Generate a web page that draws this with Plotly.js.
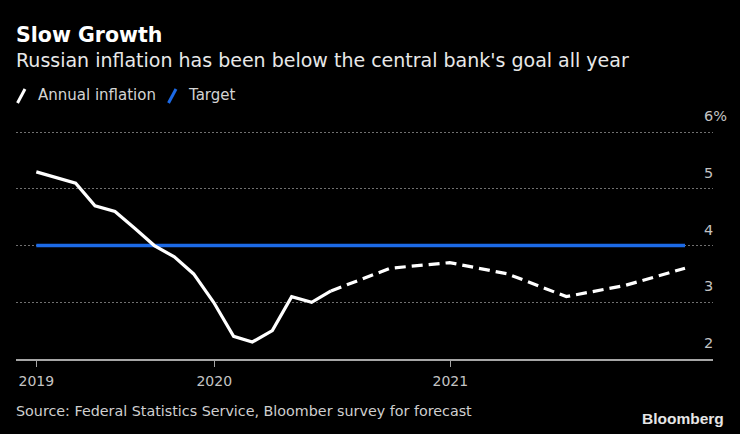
<!DOCTYPE html>
<html>
<head>
<meta charset="utf-8">
<script src="https://cdn.plot.ly/plotly-3.0.1.min.js"></script>
<style>
  html, body { margin: 0; padding: 0; background: #000; }
  #chart { width: 740px; height: 434px; }
</style>
</head>
<body>
<div id="chart"></div>
<script>
// ---- Data ----
const actualDates = ['2019-03-31','2019-04-30','2019-05-31','2019-06-30','2019-07-31','2019-08-31',
  '2019-09-30','2019-10-31','2019-11-30','2019-12-31','2020-01-31','2020-02-29','2020-03-31',
  '2020-04-30','2020-05-31','2020-06-30'];
const actualValues = [5.3, 5.2, 5.1, 4.7, 4.6, 4.3, 4.0, 3.8, 3.5, 3.0, 2.4, 2.3, 2.5, 3.1, 3.0, 3.2];

const forecastDates = ['2020-06-30','2020-09-30','2020-12-31','2021-03-31','2021-06-30','2021-09-30','2021-12-31'];
const forecastValues = [3.2, 3.6, 3.7, 3.5, 3.1, 3.3, 3.6];

const targetDates = ['2019-03-31','2021-12-31'];
const targetValues = [4, 4];

const xTickVals = ['2019-03-31','2020-01-01','2021-01-01'];
const xTickText = ['2019','2020','2021'];
const yTickVals = [2, 3, 4, 5, 6];
const yTickText = ['2','3','4','5','6%'];

const titleText = 'Slow Growth';
const subtitleText = "Russian inflation has been below the central bank's goal all year";
const sourceText = 'Source: Federal Statistics Service, Bloomber survey for forecast';
const legendNames = ['Annual inflation', 'Target'];

// ---- Layout geometry ----
const W = 740, H = 434;
const M = { l: 16, r: 27, t: 131, b: 75 };
const PW = W - M.l - M.r, PH = H - M.t - M.b;
const px = x => (x - M.l) / PW;          // pixel -> paper x
const py = y => (H - M.b - y) / PH;      // pixel -> paper y

const WHITE = '#ffffff';
const BLUE = '#1c6ae6';
const FONT = 'DejaVu Sans, Verdana, sans-serif';

const traces = [
  { x: targetDates, y: targetValues, type: 'scatter', mode: 'lines', name: legendNames[1],
    line: { color: BLUE, width: 3.5 }, hoverinfo: 'skip', showlegend: false },
  { x: actualDates, y: actualValues, type: 'scatter', mode: 'lines', name: legendNames[0],
    line: { color: WHITE, width: 3.2 }, hoverinfo: 'skip', showlegend: false },
  { x: forecastDates, y: forecastValues, type: 'scatter', mode: 'lines', name: legendNames[0] + ' (forecast)',
    line: { color: WHITE, width: 3.2, dash: '11px,6px' }, hoverinfo: 'skip', showlegend: false }
];

const layout = {
  width: W, height: H,
  paper_bgcolor: '#000', plot_bgcolor: '#000',
  margin: M,
  showlegend: false,
  font: { family: FONT, color: '#cfcfcf' },
  title: {
    text: '<b>' + titleText + '</b>',
    font: { family: FONT, size: 20.5, color: '#ffffff' },
    xref: 'container', yref: 'container',
    x: 16 / W, xanchor: 'left',
    y: 1 - 35 / H, yanchor: 'middle'
  },
  xaxis: {
    type: 'date',
    range: ['2019-02-27 12:00', '2022-02-12 10:00'],
    showgrid: false, zeroline: false,
    showline: true, linecolor: '#a6a6a6', linewidth: 1.5,
    ticks: 'outside', ticklen: 6, tickwidth: 1.5, tickcolor: '#a6a6a6',
    tickmode: 'array', tickvals: xTickVals, ticktext: xTickText,
    tickfont: { family: FONT, size: 14, color: '#c4c4c4' },
    ticklabelstandoff: 3,
    fixedrange: true
  },
  yaxis: {
    range: [2, 6.02], side: 'right',
    showgrid: true, gridcolor: '#707070', gridwidth: 1, griddash: '2px,2px',
    zeroline: false, showline: false, ticks: '',
    tickmode: 'array', tickvals: yTickVals, ticktext: yTickText,
    tickfont: { family: FONT, size: 14.5, color: '#c4c4c4' },
    ticklabelstandoff: -10, ticklabelshift: -16,
    fixedrange: true
  },
  shapes: [
    { type: 'line', xref: 'paper', yref: 'paper', x0: px(17.5), y0: py(103), x1: px(25), y1: py(89),
      line: { color: WHITE, width: 3 } },
    { type: 'line', xref: 'paper', yref: 'paper', x0: px(168.5), y0: py(103), x1: px(176), y1: py(89),
      line: { color: BLUE, width: 3 } }
  ],
  annotations: [
    { xref: 'paper', yref: 'paper', x: px(14), y: py(60), xanchor: 'left', yanchor: 'middle',
      text: subtitleText, showarrow: false, font: { family: FONT, size: 19, color: '#e8e8e8' } },
    { xref: 'paper', yref: 'paper', x: px(36), y: py(95), xanchor: 'left', yanchor: 'middle',
      text: legendNames[0], showarrow: false, font: { family: FONT, size: 15, color: '#d4d4d4' } },
    { xref: 'paper', yref: 'paper', x: px(186), y: py(95), xanchor: 'left', yanchor: 'middle',
      text: legendNames[1], showarrow: false, font: { family: FONT, size: 15, color: '#d4d4d4' } },
    { xref: 'paper', yref: 'paper', x: px(14), y: py(411), xanchor: 'left', yanchor: 'middle',
      text: sourceText, showarrow: false, font: { family: FONT, size: 14.3, color: '#cfcfcf' } },
    { xref: 'paper', yref: 'paper', x: px(726), y: py(418), xanchor: 'right', yanchor: 'middle',
      text: '<b>Bloomberg</b>', showarrow: false,
      font: { family: 'Liberation Sans, Arial, sans-serif', size: 15.5, color: '#e6e6e6' } }
  ]
};

Plotly.newPlot('chart', traces, layout, { displayModeBar: false, staticPlot: true });
</script>
</body>
</html>
